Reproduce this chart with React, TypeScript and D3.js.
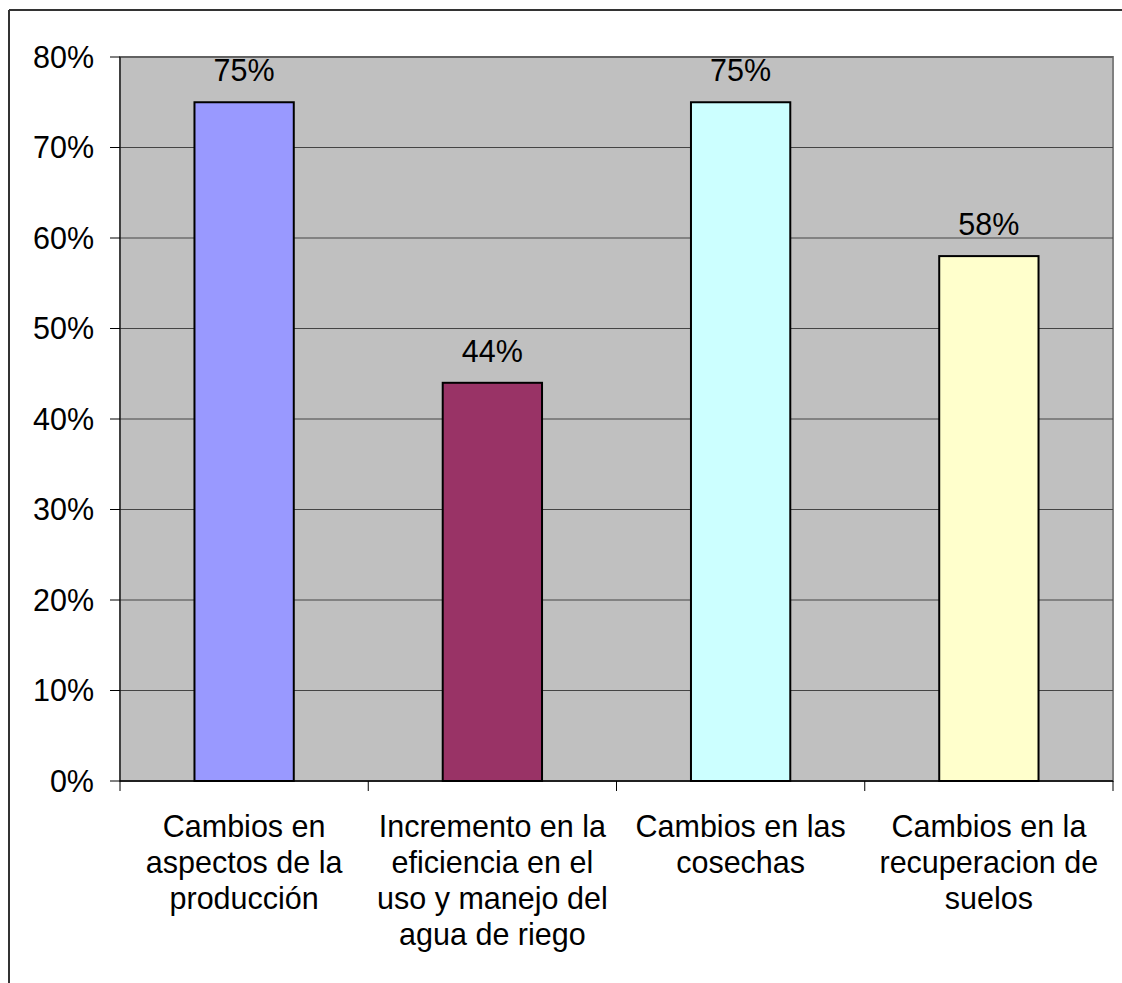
import React from "react";
import * as d3 from "d3";

const categories: string[][] = [
  ["Cambios en", "aspectos de la", "producción"],
  ["Incremento en la", "eficiencia en el", "uso y manejo del", "agua de riego"],
  ["Cambios en las", "cosechas"],
  ["Cambios en la", "recuperacion de", "suelos"],
];
const values = [0.75, 0.44, 0.75, 0.58];
const colors = ["#9999FF", "#993366", "#CCFFFF", "#FFFFCC"];
const yTicks = [0, 0.1, 0.2, 0.3, 0.4, 0.5, 0.6, 0.7, 0.8];

export default function App() {
  const W = 1122, H = 983;
  const left = 120, right = 1113, top = 57, bottom = 781;
  const x = d3.scaleBand<number>().domain(d3.range(values.length)).range([left, right]).padding(0);
  const y = d3.scaleLinear().domain([0, 0.8]).range([bottom, top]);
  const fmt = d3.format(".0%");
  const bw = x.bandwidth() * 0.4;
  const font = "'Liberation Sans', Arial, sans-serif";
  const fs = 30.5;
  return (
    <svg width={W} height={H} style={{ position: "absolute", left: 0, top: 0 }} fontFamily={font}>
      <rect width={W} height={H} fill="#fff" />
      <line x1={9} y1={10} x2={W} y2={10} stroke="#333" strokeWidth={2} />
      <line x1={9} y1={10} x2={9} y2={H} stroke="#333" strokeWidth={2} />
      <rect x={left} y={top} width={right - left} height={bottom - top} fill="#C0C0C0" stroke="#808080" strokeWidth={2} />
      {yTicks.map((t) => (
        <g key={t}>
          {t > 0 && <line x1={left} x2={right} y1={y(t)} y2={y(t)} stroke="#444" strokeWidth={1} />}
          <line x1={110} x2={left} y1={y(t)} y2={y(t)} stroke="#000" strokeWidth={1} />
          <text x={94} y={y(t)} dy="0.35em" textAnchor="end" fontSize={fs} fill="#000">{fmt(t)}</text>
        </g>
      ))}
      <line x1={left} x2={left} y1={top} y2={bottom} stroke="#000" strokeWidth={1} />
      {values.map((v, i) => {
        const cx = (x(i) as number) + x.bandwidth() / 2;
        return (
          <g key={i}>
            <rect x={cx - bw / 2} y={y(v)} width={bw} height={bottom - y(v)} fill={colors[i]} stroke="#000" strokeWidth={2} />
            <text x={cx} y={y(v) - 21} textAnchor="middle" fontSize={fs} fill="#000">{fmt(v)}</text>
            {categories[i].map((line, j) => (
              <text key={j} x={cx} y={837 + j * 36} textAnchor="middle" fontSize={fs} fill="#000">{line}</text>
            ))}
          </g>
        );
      })}
      <line x1={left} x2={right} y1={bottom} y2={bottom} stroke="#000" strokeWidth={1.5} />
      {d3.range(values.length + 1).map((i) => {
        const xx = i < values.length ? (x(i) as number) : right;
        return <line key={i} x1={xx} x2={xx} y1={bottom} y2={bottom + 10} stroke="#000" strokeWidth={1} />;
      })}
    </svg>
  );
}
